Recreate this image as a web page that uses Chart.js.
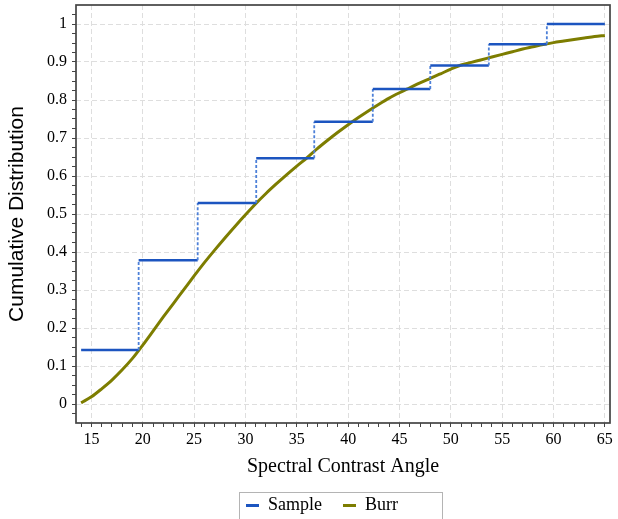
<!DOCTYPE html>
<html>
<head>
<meta charset="utf-8">
<script src="https://cdn.jsdelivr.net/npm/chart.js@4.4.1/dist/chart.umd.min.js"></script>
<style>
  html, body { margin: 0; padding: 0; background: #fff; overflow: hidden; }
  #wrap { width: 618px; height: 530px; }
</style>
</head>
<body>
<div id="wrap"><canvas id="chart" width="618" height="530"></canvas></div>
<script>
// empirical CDF (step edges and levels)
var sampleEdges = [14, 19.6, 25.35, 31.05, 36.7, 42.4, 48.0, 53.7, 59.35, 65];
var sampleLevels = [0.142, 0.378, 0.529, 0.647, 0.743, 0.829, 0.891, 0.947, 1.0];

// fitted Burr CDF
var burrAngles = [14, 15, 16, 17, 18, 19, 20, 21, 22, 23, 24, 25, 26, 27, 28, 29, 30,
  31, 32, 33, 34, 35, 36, 37, 38, 39, 40, 41, 42, 43, 44, 45, 46, 47, 48, 49, 50,
  51, 52, 53, 54, 55, 56, 57, 58, 59, 60, 61, 62, 63, 64, 65];
var burrValues = [0.003, 0.019, 0.040, 0.063, 0.090, 0.120, 0.155, 0.192, 0.229, 0.265,
  0.301, 0.337, 0.372, 0.405, 0.437, 0.468, 0.498, 0.527, 0.554, 0.579, 0.603, 0.626,
  0.648, 0.672, 0.694, 0.715, 0.735, 0.754, 0.772, 0.789, 0.805, 0.819, 0.832, 0.845,
  0.857, 0.869, 0.881, 0.892, 0.899, 0.906, 0.913, 0.920, 0.927, 0.934, 0.940, 0.946,
  0.951, 0.955, 0.959, 0.963, 0.967, 0.970];

var xTickLabels = [15, 20, 25, 30, 35, 40, 45, 50, 55, 60, 65];
var yTickLabels = [0, 0.1, 0.2, 0.3, 0.4, 0.5, 0.6, 0.7, 0.8, 0.9, 1];

var samplePoints = [];
for (var i = 0; i < sampleLevels.length; i++) {
  samplePoints.push({x: sampleEdges[i], y: sampleLevels[i]});
  samplePoints.push({x: sampleEdges[i + 1], y: sampleLevels[i]});
}
var burrPoints = burrAngles.map(function(a, i) { return {x: a, y: burrValues[i]}; });

function isMajorX(v) { return xTickLabels.indexOf(v) >= 0; }
function isMajorY(v) {
  return yTickLabels.some(function(t) { return Math.abs(t - v) < 1e-9; });
}
var vertical = function(ctx, a, b) { return ctx.p0.parsed.x === ctx.p1.parsed.x ? a : b; };

var legendShift = 97;
var frame = {
  id: 'frame',
  afterLayout: function(chart) {
    var lg = chart.legend;
    var pad = lg.options.labels.padding;
    var start = (lg.left + pad + lg.right - lg.lineWidths[0]) / 2;
    var target = (chart.chartArea.left + chart.chartArea.right) / 2 - legendShift;
    lg.left += target - start;
    lg.right += target - start;
    chart.$legendStart = target;
  },
  afterDraw: function(chart) {
    var c = chart.ctx, a = chart.chartArea, lg = chart.legend;
    c.save();
    c.strokeStyle = '#444';
    c.lineWidth = 1.7;
    c.strokeRect(a.left, a.top, a.right - a.left, a.bottom - a.top);
    var mid = lg.top + lg.options.labels.padding + 9;
    c.strokeStyle = '#b4b4b4';
    c.lineWidth = 1;
    c.strokeRect(Math.round(chart.$legendStart - 7) + 0.5, Math.round(mid - 14) + 0.5, 203, 30);
    c.restore();
  }
};

Chart.defaults.font.family = "'Liberation Serif', 'Times New Roman', serif";
Chart.defaults.color = '#000';

new Chart(document.getElementById('chart'), {
  type: 'line',
  data: {
    datasets: [{
      label: 'Sample',
      data: samplePoints,
      borderColor: '#1c55c0',
      backgroundColor: '#1c55c0',
      borderWidth: 2.5,
      pointRadius: 0,
      tension: 0,
      segment: {
        borderDash: function(ctx) { return vertical(ctx, [3, 2], undefined); },
        borderWidth: function(ctx) { return vertical(ctx, 1.8, undefined); },
        borderColor: function(ctx) { return vertical(ctx, '#4d80d8', undefined); }
      }
    }, {
      label: 'Burr',
      data: burrPoints,
      borderColor: '#7d7d00',
      backgroundColor: '#7d7d00',
      borderWidth: 3,
      pointRadius: 0,
      cubicInterpolationMode: 'monotone'
    }]
  },
  options: {
    responsive: false,
    animation: false,
    layout: { padding: { left: 0, right: 8, top: 5, bottom: 5.5 } },
    plugins: {
      tooltip: { enabled: false },
      legend: {
        position: 'bottom',
        labels: {
          boxWidth: 13,
          boxHeight: 3,
          padding: 21,
          font: { size: 18 },
          generateLabels: function(chart) {
            return chart.data.datasets.map(function(ds, i) {
              return { text: ds.label, fillStyle: ds.borderColor, strokeStyle: ds.borderColor,
                lineWidth: 0, datasetIndex: i, fontColor: '#000' };
            });
          }
        }
      }
    },
    scales: {
      x: {
        type: 'linear',
        min: 13.5,
        max: 65.5,
        afterBuildTicks: function(scale) {
          var t = [];
          for (var v = 14; v <= 65; v++) t.push({value: v});
          scale.ticks = t;
        },
        afterFit: function(scale) {
          scale.height = 52.5;
          scale.paddingLeft = 0;
          scale.paddingRight = 0;
        },
        ticks: {
          autoSkip: false,
          maxRotation: 0,
          padding: 3,
          font: { size: 16 },
          callback: function(v) { return isMajorX(v) ? String(v) : ''; }
        },
        grid: {
          color: function(ctx) { return ctx.tick && isMajorX(ctx.tick.value) ? '#dedede' : 'rgba(0,0,0,0)'; },
          tickColor: '#444',
          tickLength: 4,
          lineWidth: 1
        },
        border: { display: false, dash: [5, 3] },
        title: {
          display: true,
          text: 'Spectral Contrast Angle',
          font: { size: 20 },
          padding: { top: 0, bottom: -3.5 }
        }
      },
      y: {
        type: 'linear',
        min: -0.05,
        max: 1.05,
        afterBuildTicks: function(scale) {
          var t = [];
          for (var k = -1; k <= 41; k++) t.push({value: k / 40});
          scale.ticks = t;
        },
        afterFit: function(scale) {
          scale.width = 76;
          scale.paddingTop = 0;
          scale.paddingBottom = 0;
        },
        ticks: {
          autoSkip: false,
          padding: 5,
          font: { size: 16 },
          callback: function(v) { return isMajorY(v) ? String(Math.round(v * 10) / 10) : ''; }
        },
        grid: {
          color: function(ctx) { return ctx.tick && isMajorY(ctx.tick.value) ? '#dedede' : 'rgba(0,0,0,0)'; },
          tickColor: '#444',
          tickLength: 4,
          lineWidth: 1
        },
        border: { display: false, dash: [5, 3] },
        title: {
          display: true,
          text: 'Cumulative Distribution',
          font: { family: "'Liberation Sans', Arial, sans-serif", size: 21 },
          padding: { top: 5, bottom: 0 }
        }
      }
    }
  },
  plugins: [frame]
});
</script>
</body>
</html>
